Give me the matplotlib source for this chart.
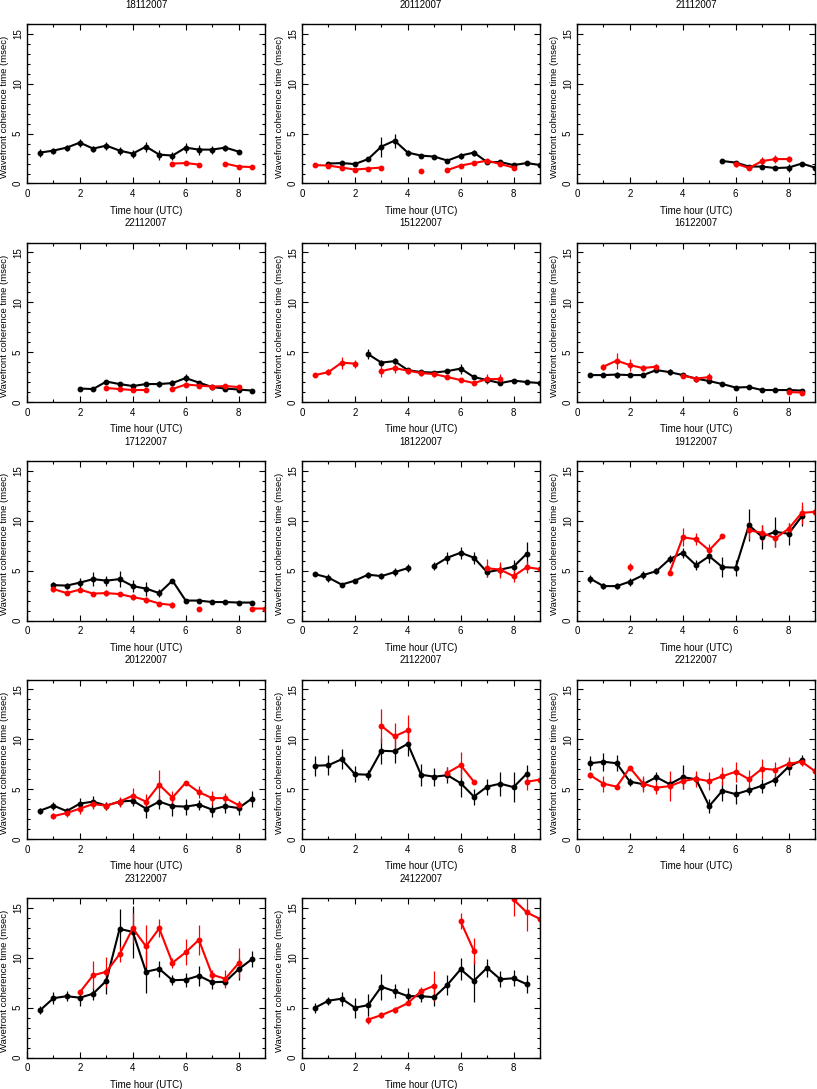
import numpy as np
import matplotlib
matplotlib.use("Agg")
import matplotlib.pyplot as plt
from matplotlib.ticker import MultipleLocator

plt.rcParams["font.family"] = ["Liberation Sans", "DejaVu Sans"]

n = np.nan

# hours of the half-hour bins, 0 .. 9 UTC
hours = [0.0, 0.5, 1.0, 1.5, 2.0, 2.5, 3.0, 3.5, 4.0, 4.5, 5.0, 5.5, 6.0, 6.5, 7.0, 7.5, 8.0, 8.5, 9.0]

dates = ["18112007", "20112007", "21112007", "22112007", "15122007", "16122007", "17122007",
         "18122007", "19122007", "20122007", "21122007", "22122007", "23122007", "24122007"]

# ---- 18112007
blk_18112007 = [n, 3.1, 3.3, 3.6, 4.1, 3.5, 3.8, 3.3, 3.0, 3.7, 2.9, 2.8, 3.6, 3.4, 3.4, 3.6, 3.2, n, n]
blk_err_18112007 = [n, .4, .3, .3, .4, .3, .4, .4, .4, .5, .5, .4, .5, .5, .4, .3, .1, n, n]
red_18112007 = [n, n, n, n, n, n, n, n, n, n, n, 2.0, 2.05, 1.9, n, 2.0, 1.7, 1.65, n]
red_err_18112007 = [n, n, n, n, n, n, n, n, n, n, n, .1, .1, .1, n, .1, .1, .1, n]

# ---- 20112007
blk_20112007 = [n, n, 2.0, 2.05, 1.95, 2.45, 3.7, 4.3, 3.1, 2.8, 2.7, 2.3, 2.8, 3.1, 2.15, 2.15, 1.85, 2.05, 1.85]
blk_err_20112007 = [n, n, .15, .15, .15, .15, 1.0, .7, .3, .15, .15, .15, .3, .3, .15, .15, .15, .15, .15]
red_20112007 = [n, 1.85, 1.8, 1.6, 1.4, 1.5, 1.6, n, n, 1.25, n, 1.35, 1.8, 2.05, 2.3, 1.95, 1.6, n, n]
red_err_20112007 = [n, .1, .15, .15, .15, .15, .15, n, n, .1, n, .15, .15, .15, .15, .2, .2, n, n]

# ---- 21112007
blk_21112007 = [n, n, n, n, n, n, n, n, n, n, n, 2.25, 2.1, 1.7, 1.7, 1.55, 1.6, 2.0, 1.6]
blk_err_21112007 = [n, n, n, n, n, n, n, n, n, n, n, .1, .15, .15, .2, .2, .4, .15, .15]
red_21112007 = [n, n, n, n, n, n, n, n, n, n, n, n, 2.0, 1.55, 2.25, 2.45, 2.45, n, n]
red_err_21112007 = [n, n, n, n, n, n, n, n, n, n, n, n, .3, .2, .4, .4, .3, n, n]

# ---- 22112007
blk_22112007 = [n, n, n, n, 1.35, 1.3, 2.05, 1.8, 1.6, 1.8, 1.8, 1.9, 2.4, 1.95, 1.5, 1.35, 1.25, 1.15, n]
blk_err_22112007 = [n, n, n, n, .2, .15, .2, .2, .2, .2, .3, .3, .4, .2, .2, .2, .15, .15, n]
red_22112007 = [n, n, n, n, n, n, 1.4, 1.3, 1.2, 1.2, n, 1.3, 1.75, 1.65, 1.55, 1.6, 1.5, n, n]
red_err_22112007 = [n, n, n, n, n, n, .2, .15, .1, .1, n, .15, .2, .2, .2, .2, .2, n, n]

# ---- 15122007
blk_15122007 = [n, n, n, n, n, 4.8, 3.95, 4.1, 3.2, 3.0, 2.95, 3.1, 3.35, 2.5, 2.2, 1.9, 2.15, 2.0, 1.9]
blk_err_15122007 = [n, n, n, n, n, .5, .3, .3, .2, .2, .2, .2, .5, .2, .2, .2, .15, .1, .1]
red_15122007 = [n, 2.7, 3.0, 3.95, 3.85, n, 3.1, 3.4, 3.15, 2.9, 2.8, 2.5, 2.2, 1.9, 2.3, 2.3, n, n, n]
red_err_15122007 = [n, .2, .3, .6, .4, n, .6, .5, .3, .3, .3, .2, .2, .2, .5, .5, n, n, n]

# ---- 16122007
blk_16122007 = [n, 2.7, 2.7, 2.75, 2.7, 2.7, 3.2, 3.0, 2.7, 2.35, 2.1, 1.8, 1.45, 1.5, 1.2, 1.2, 1.2, 1.15, n]
blk_err_16122007 = [n, .2, .2, .3, .2, .2, .2, .3, .2, .2, .2, .1, .1, .15, .1, .1, .1, .1, n]
red_16122007 = [n, n, 3.55, 4.15, 3.7, 3.4, 3.55, n, 2.65, 2.35, 2.5, n, n, n, n, n, 1.0, 0.95, n]
red_err_16122007 = [n, n, .3, .8, .6, .3, .3, n, .2, .3, .4, n, n, n, n, n, .15, .15, n]

# ---- 17122007
blk_17122007 = [n, n, 3.55, 3.5, 3.8, 4.15, 4.0, 4.15, 3.45, 3.2, 2.75, 4.0, 2.0, 2.0, 1.85, 1.85, 1.8, 1.8, n]
blk_err_17122007 = [n, n, .3, .3, .5, .7, .5, .8, .6, .7, .4, .2, .15, .15, .15, .15, .1, .1, n]
red_17122007 = [n, n, 3.15, 2.75, 3.1, 2.7, 2.75, 2.65, 2.35, 2.1, 1.7, 1.55, n, 1.2, n, n, n, 1.2, 1.2]
red_err_17122007 = [n, n, .3, .2, .2, .2, .3, .2, .3, .3, .2, .3, n, .15, n, n, n, .1, .1]

# ---- 18122007
blk_18122007 = [n, 4.65, 4.3, 3.6, 4.0, 4.6, 4.45, 4.85, 5.25, n, 5.5, 6.3, 6.8, 6.3, 4.85, 5.1, 5.4, 6.7, n]
blk_err_18122007 = [n, .2, .4, .2, .2, .3, .3, .4, .4, n, .4, .6, .6, .6, .5, .6, .7, 1.2, n]
red_18122007 = [n, n, n, n, n, n, n, n, n, n, n, n, n, n, 5.25, 5.1, 4.45, 5.35, 5.15]
red_err_18122007 = [n, n, n, n, n, n, n, n, n, n, n, n, n, n, .9, .8, .6, .6, .3]

# ---- 19122007
blk_19122007 = [n, 4.2, 3.45, 3.45, 3.9, 4.55, 4.95, 6.15, 6.8, 5.55, 6.45, 5.35, 5.3, 9.55, 8.4, 8.9, 8.7, 10.45, n]
blk_err_19122007 = [n, .4, .3, .3, .4, .4, .3, .4, .5, .5, .7, 1.0, .8, 1.6, 1.2, 1.5, 1.1, 1.0, n]
red_19122007 = [n, n, n, n, 5.35, n, n, 4.8, 8.35, 8.15, 7.05, 8.45, n, 9.05, 8.8, 8.25, 9.2, 10.8, 10.9]
red_err_19122007 = [n, n, n, n, .4, n, n, .2, .9, .6, .6, .15, n, .9, .8, .9, .6, 1.1, .5]

# ---- 20122007
blk_20122007 = [n, 2.85, 3.35, 2.8, 3.55, 3.75, 3.35, 3.75, 3.85, 3.05, 3.75, 3.3, 3.25, 3.45, 2.95, 3.3, 3.1, 4.05, n]
blk_err_20122007 = [n, .3, .4, .3, .6, .6, .4, .4, .5, .9, .7, 1.0, .8, .5, .7, .7, .7, .8, n]
red_20122007 = [n, n, 2.3, 2.6, 3.05, 3.5, 3.35, 3.75, 4.35, 3.75, 5.45, 4.15, 5.65, 4.7, 4.1, 4.1, 3.4, n, n]
red_err_20122007 = [n, n, .3, .4, .5, .5, .4, .5, .8, .8, 1.5, .7, .15, .6, .7, .5, .4, n, n]

# ---- 21122007
blk_21122007 = [n, 7.35, 7.4, 8.0, 6.5, 6.45, 8.85, 8.8, 9.55, 6.45, 6.25, 6.4, 5.6, 4.25, 5.25, 5.55, 5.2, 6.55, n]
blk_err_21122007 = [n, 1.0, 1.0, 1.0, .8, .5, 1.3, 1.2, 1.2, 1.1, .9, .8, 1.4, .8, .8, 1.2, 1.5, .9, n]
red_21122007 = [n, n, n, n, n, n, 11.35, 10.3, 10.9, n, n, 6.65, 7.4, 5.75, n, n, n, 5.75, 5.95]
red_err_21122007 = [n, n, n, n, n, n, 1.7, 1.3, 1.5, n, n, .6, 1.3, .15, n, n, n, .8, .8]

# ---- 22122007
blk_22122007 = [n, 7.6, 7.75, 7.6, 5.75, 5.5, 6.2, 5.5, 6.2, 6.0, 3.3, 4.85, 4.5, 4.9, 5.35, 5.95, 7.25, 7.9, n]
blk_err_22122007 = [n, .7, .9, .8, .4, .6, .5, .5, 1.2, .5, .7, 1.0, 1.0, .5, .7, .6, .8, .5, n]
red_22122007 = [n, 6.4, 5.55, 5.25, 7.15, 5.55, 5.15, 5.3, 5.8, 6.05, 5.8, 6.3, 6.75, 6.0, 7.05, 6.95, 7.55, 7.75, 6.8]
red_err_22122007 = [n, .3, .8, .15, .15, .8, .6, 1.5, .8, .8, .9, .9, 1.0, .9, 1.0, .8, .7, .4, .3]

# ---- 23122007
blk_23122007 = [n, 4.75, 5.95, 6.15, 6.0, 6.4, 7.7, 12.9, 12.6, 8.6, 8.9, 7.75, 7.8, 8.2, 7.55, 7.6, 8.85, 9.85, n]
blk_err_23122007 = [n, .4, .6, .5, .8, .6, 1.3, 2.0, 2.6, 2.1, .8, .5, .7, 1.0, .7, .4, 1.1, .8, n]
red_23122007 = [n, n, n, n, 6.55, 8.25, 8.6, 10.35, 12.95, 11.15, 12.95, 9.5, 10.55, 11.8, 8.3, 7.9, 9.45, n, n]
red_err_23122007 = [n, n, n, n, .2, 1.4, 1.5, .8, 1.5, 2.1, .9, .5, 1.3, 1.5, .5, .9, 1.5, n, n]

# ---- 24122007
blk_24122007 = [n, 5.0, 5.7, 5.9, 5.0, 5.25, 7.1, 6.65, 6.15, 6.15, 6.05, 7.3, 8.85, 7.7, 9.0, 7.85, 7.95, 7.35, n]
blk_err_24122007 = [n, .5, .4, .7, 1.0, 1.1, 1.3, .7, .8, .6, .9, 1.0, 1.1, 2.1, .9, .8, .8, .9, n]
red_24122007 = [n, n, n, n, n, 3.8, 4.25, 4.8, 5.45, 6.65, 7.2, n, 13.65, 10.7, n, n, 15.85, 14.55, 13.9]
red_err_24122007 = [n, n, n, n, n, .4, .3, .3, .2, .4, 1.5, n, .8, 1.3, n, n, 1.7, 1.9, 1.7]

panels = [
    (blk_18112007, blk_err_18112007, red_18112007, red_err_18112007),
    (blk_20112007, blk_err_20112007, red_20112007, red_err_20112007),
    (blk_21112007, blk_err_21112007, red_21112007, red_err_21112007),
    (blk_22112007, blk_err_22112007, red_22112007, red_err_22112007),
    (blk_15122007, blk_err_15122007, red_15122007, red_err_15122007),
    (blk_16122007, blk_err_16122007, red_16122007, red_err_16122007),
    (blk_17122007, blk_err_17122007, red_17122007, red_err_17122007),
    (blk_18122007, blk_err_18122007, red_18122007, red_err_18122007),
    (blk_19122007, blk_err_19122007, red_19122007, red_err_19122007),
    (blk_20122007, blk_err_20122007, red_20122007, red_err_20122007),
    (blk_21122007, blk_err_21122007, red_21122007, red_err_21122007),
    (blk_22122007, blk_err_22122007, red_22122007, red_err_22122007),
    (blk_23122007, blk_err_23122007, red_23122007, red_err_23122007),
    (blk_24122007, blk_err_24122007, red_24122007, red_err_24122007),
]

W, H = 817, 1089
fig = plt.figure(figsize=(W / 100, H / 100), dpi=100)

col_left = [27, 302, 577]
ax_w, ax_h = 238, 159.5
row_top0, row_step = 24, 218.5

for i, (date, (b, be, r, re_)) in enumerate(zip(dates, panels)):
    row, col = divmod(i, 3)
    top = row_top0 + row * row_step
    ax = fig.add_axes([col_left[col] / W, 1 - (top + ax_h) / H, ax_w / W, ax_h / H])

    ax.errorbar(hours, b, yerr=be, fmt="-o", color="black", ms=3.2, lw=1.5,
                elinewidth=0.9, capsize=0)
    ax.errorbar(hours, r, yerr=re_, fmt="-o", color="#ff0000", ms=3.2, lw=1.5,
                elinewidth=0.9, capsize=0)

    ax.set_xlim(0, 9)
    ax.set_ylim(0, 16)
    ax.xaxis.set_major_locator(MultipleLocator(2))
    ax.xaxis.set_minor_locator(MultipleLocator(1))
    ax.yaxis.set_major_locator(MultipleLocator(5))
    ax.yaxis.set_minor_locator(MultipleLocator(1))
    ax.tick_params(which="both", direction="in", top=True, right=True, width=0.8, labelsize=7)
    ax.tick_params(which="major", length=4.5)
    ax.tick_params(which="minor", length=2.5)
    ax.tick_params(axis="x", pad=4)
    ax.tick_params(axis="y", pad=3)
    for lab in ax.get_yticklabels():
        lab.set_rotation(90)
        lab.set_va("center")
    for s in ax.spines.values():
        s.set_linewidth(1.0)

    ax.set_xlabel("Time hour (UTC)", fontsize=7)
    ax.xaxis.set_label_coords(0.5, -0.14)
    ax.set_ylabel("Wavefront coherence time (msec)", fontsize=6.8)
    ax.yaxis.set_label_coords(-0.074, 0.48)
    ax.text(0.5, 1.122, date, transform=ax.transAxes, ha="center", va="center", fontsize=7)

fig.savefig("out.png", dpi=100)
